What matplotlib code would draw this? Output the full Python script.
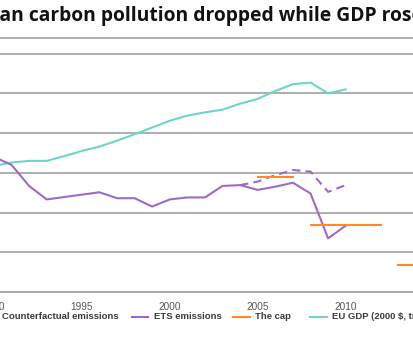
import matplotlib
matplotlib.use("Agg")
import matplotlib.pyplot as plt
from matplotlib.lines import Line2D

# ---- data (index units) ----
years = list(range(1990, 2011))
ets_emissions = [94.0, 92.0, 86.7, 83.3, 83.9, 84.5, 85.1, 83.6, 83.6, 81.5, 83.3,
                 83.8, 83.8, 86.7, 86.9, 85.7, 86.5, 87.5, 84.8, 73.5, 76.7]
eu_gdp = [91.7, 92.6, 93.0, 93.0, 94.2, 95.5, 96.6, 98.1, 99.7, 101.4, 103.1,
          104.4, 105.2, 105.9, 107.4, 108.6, 110.6, 112.3, 112.7, 110.0, 111.0]
cf_years = [2004, 2005, 2006, 2007, 2008, 2009, 2010]
counterfactual = [86.9, 87.8, 89.4, 90.7, 90.3, 85.2, 86.9]
cap_phases = [(2005, 2007, 89.0), (2008, 2012, 76.9), (2013, 2020, 66.8)]
xticks = [1990, 1995, 2000, 2005, 2010, 2015]
yticks = [60, 70, 80, 90, 100, 110, 120]
title = "European carbon pollution dropped while GDP rose"
legend_labels = ["Counterfactual emissions", "ETS emissions", "The cap", "EU GDP (2000 $, trillions)"]

PURPLE = "#9b6bc9"
TEAL = "#6fd4c8"
ORANGE = "#ff8a23"
GRID = "#a8a8a8"

W, H = 413, 345
fig = plt.figure(figsize=(W / 100, H / 100), dpi=100)

# axes extend past the canvas (the reference is a crop)
x0_px = -23.69
x1_px = 433.65
y_bot = 53 / H
y_top = (H - 37.7) / H
ax = fig.add_axes([x0_px / W, y_bot, (x1_px - x0_px) / W, y_top - y_bot])
ax.set_xlim(1989, 2015)
ax.set_ylim(60, 124)

ax.set_yticks(yticks)
ax.set_yticklabels([])
ax.tick_params(axis="y", length=0)
ax.grid(axis="y", color=GRID, lw=1.3, zorder=0)
ax.set_xticks(xticks)
ax.set_xticklabels([str(t) for t in xticks], fontsize=7.2, color="#555555",
                   family=["Liberation Sans", "DejaVu Sans"])
ax.tick_params(axis="x", length=0, pad=7)
for s in ["left", "right"]:
    ax.spines[s].set_visible(False)
for s in ["top", "bottom"]:
    ax.spines[s].set_color(GRID)
    ax.spines[s].set_linewidth(1.3)

lw = 1.5
ax.plot(years, eu_gdp, color=TEAL, lw=lw, zorder=3)
ax.plot(years, ets_emissions, color=PURPLE, lw=lw, zorder=4)
ax.plot(cf_years, counterfactual, color=PURPLE, lw=lw, ls=(0, (4, 2.5)), zorder=4)
for (a, b, v) in cap_phases:
    ax.plot([a, b], [v, v], color=ORANGE, lw=lw, zorder=5)

# title, positioned so that "Europe" falls off the left edge
tfont = dict(family=["Open Sans", "DejaVu Sans"], weight="bold", fontsize=13.9)
renderer = fig.canvas.get_renderer()
tmp = fig.text(0, 0, "Europe", **tfont)
w_off = tmp.get_window_extent(renderer).width
tmp.remove()
fig.text(-w_off / W, (H - 21) / H, title, ha="left", va="baseline",
         color="#111111", **tfont)

# legend drawn manually (partly cropped like the reference)
ly = (H - 316.5) / H
handles = [
    (-25, -8, PURPLE, (0, (4, 2.5)), 2),
    (132, 148, PURPLE, "-", 154),
    (233, 250, ORANGE, "-", 255),
    (310, 327, TEAL, "-", 332),
]
for (a, b, c, ls, tx), lab in zip(handles, legend_labels):
    fig.add_artist(Line2D([a / W, b / W], [ly, ly], transform=fig.transFigure,
                          color=c, lw=lw, ls=ls))
    fig.text(tx / W, ly, lab, ha="left", va="center", fontsize=6.8,
             weight="bold", color="#3a3a3a",
             family=["Liberation Sans", "DejaVu Sans"])

fig.savefig("out.png", dpi=100)
